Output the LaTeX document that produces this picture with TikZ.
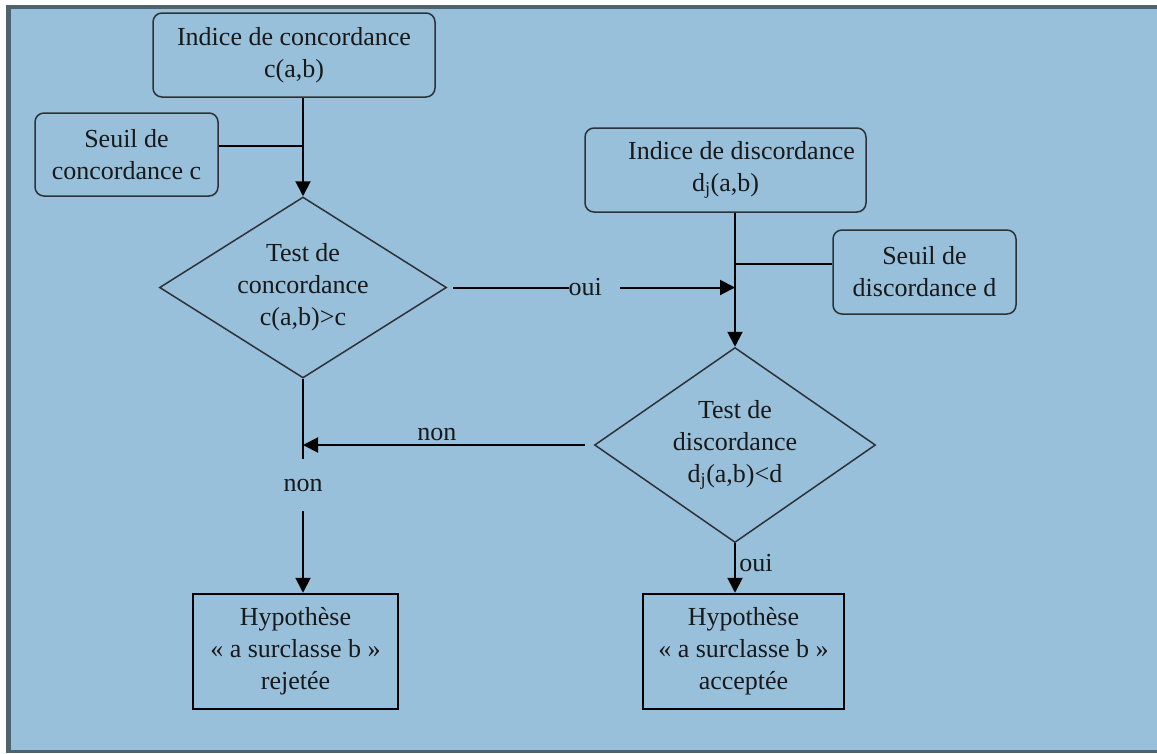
\documentclass[tikz,border=0pt]{standalone}
\usepackage{fontspec}
\setmainfont{Liberation Serif}
\usetikzlibrary{arrows.meta,shapes.geometric}
\definecolor{fondbleu}{RGB}{152,192,218}
\definecolor{cadre}{RGB}{79,99,110}
\definecolor{trait}{RGB}{45,50,55}

\begin{document}
\begin{tikzpicture}[x=1pt,y=-1pt,
every node/.style={font=\fontsize{26}{32}\selectfont,align=center,text=black!90},
boite/.style={draw=trait,line width=1.5pt,rounded corners=9pt,inner sep=0pt},
hyp/.style={draw=black,line width=2.5pt,inner sep=0pt,minimum height=115pt},
test/.style={draw=trait,line width=1.5pt,diamond,inner sep=0pt},
fl/.style={line width=2pt,-{Triangle[length=15pt,width=15pt]}},
lien/.style={line width=2pt}]
\path[use as bounding box,fill=white] (0,0) rectangle (1157,753);
\fill[cadre] (6,5) rectangle (1157,753);
\fill[fondbleu] (11,9) rectangle (1157,750);

\node[boite,minimum width=282pt,minimum height=84pt] (ic) at (294,55) {Indice de concordance\\c(a,b)};
\node[boite,minimum width=183pt,minimum height=83pt] (sc) at (126.5,154.5) {Seuil de\\concordance c};
\node[test,aspect=1.6,minimum width=287pt,minimum height=181pt] (d1) at (303,287.5) {Test de\\concordance\\c(a,b)>c};
\node[boite,minimum width=281pt,minimum height=84pt] (idc) at (725.5,170) {\hspace*{32pt}Indice de discordance\\d\textsubscript{j}(a,b)};
\node[boite,minimum width=183pt,minimum height=84pt] (sd) at (924.5,272) {Seuil de\\discordance d};
\node[test,aspect=1.45,minimum width=281pt,minimum height=195pt] (d2) at (735,445) {Test de\\discordance\\d\textsubscript{j}(a,b)<d};
\node[hyp,minimum width=205pt] (rej) at (295.5,651.5) {Hypothèse\\« a surclasse b »\\rejetée};
\node[hyp,minimum width=201pt] (acc) at (743.5,651.5) {Hypothèse\\« a surclasse b »\\acceptée};
\node[inner ysep=20pt] (n1) at (303,485) {non};

\draw[fl] (ic.south -| d1.north) -- (d1.north);
\draw[lien] ([yshift=9pt]sc.east) -- ([yshift=9pt]sc.east -| d1.north);
\draw[fl,shorten <=6pt] (d1.east) -- node[fill=fondbleu,inner xsep=0pt,inner ysep=2pt,anchor=west,pos=0.418]{oui\hspace*{18pt}} (d1.east -| d2.north);
\draw[fl] (idc.south -| d2.north) -- (d2.north);
\draw[lien] ([yshift=8pt]sd.west) -- ([yshift=8pt]sd.west -| d2.north);
\draw[fl,shorten <=9pt] (d2.west) -- node[above,pos=0.54]{non} (d2.west -| d1.south);
\draw[lien] (d1.south) -- (n1);
\draw[fl] (n1) -- (rej.north -| n1);
\draw[fl] (d2.south) -- node[right,pos=0.4]{oui} (acc.north -| d2.south);
\end{tikzpicture}
\end{document}
